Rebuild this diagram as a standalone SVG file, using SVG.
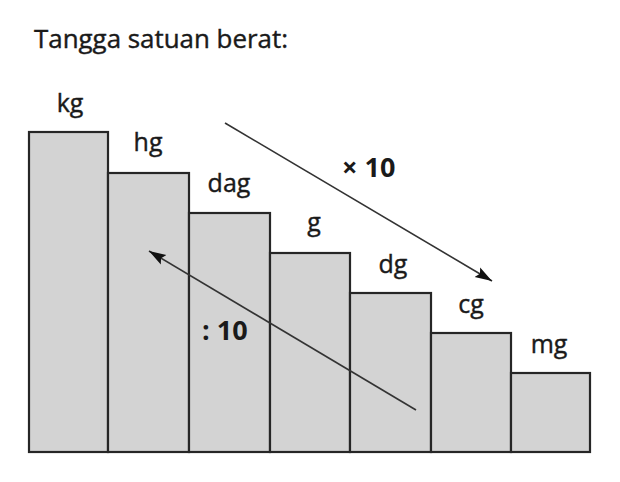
<svg xmlns="http://www.w3.org/2000/svg" width="620" height="482" viewBox="0 0 620 482">
<style>
.bar{fill:#d3d3d3;stroke:#262626;stroke-width:2.2}
.lbl{font-family:"Open Sans","Liberation Sans",sans-serif;font-size:25px;fill:#1a1a1a;stroke:#1a1a1a;stroke-width:0.4;text-anchor:middle}
.title{font-family:"Open Sans","Liberation Sans",sans-serif;font-size:25px;fill:#1a1a1a;stroke:#1a1a1a;stroke-width:0.4}
.op{font-family:"Open Sans","Liberation Sans",sans-serif;font-size:27px;font-weight:bold;fill:#1a1a1a}
.arr{stroke:#333;stroke-width:1.6;fill:none;marker-end:url(#ah)}
</style>
<defs>
<marker id="ah" markerUnits="userSpaceOnUse" markerWidth="18" markerHeight="12" refX="17" refY="6" orient="auto">
<path d="M0,0.5 L17,6 L0,11.5 L3,6 z" fill="#111"/>
</marker>
</defs>
<rect width="620" height="482" fill="#fff"/>
<text class="title" x="34" y="48" textLength="254" lengthAdjust="spacingAndGlyphs">Tangga satuan berat:</text>
<g id="kg"><rect class="bar" x="29" y="132" width="79" height="320"/><text class="lbl" x="70" y="112">kg</text></g>
<g id="hg"><rect class="bar" x="108" y="173" width="81" height="279"/><text class="lbl" x="148" y="151">hg</text></g>
<g id="dag"><rect class="bar" x="189" y="213" width="81" height="239"/><text class="lbl" x="229" y="192">dag</text></g>
<g id="g"><rect class="bar" x="270" y="253" width="80" height="199"/><text class="lbl" x="314" y="231">g</text></g>
<g id="dg"><rect class="bar" x="350" y="293" width="81" height="159"/><text class="lbl" x="393" y="273">dg</text></g>
<g id="cg"><rect class="bar" x="431" y="333" width="80" height="119"/><text class="lbl" x="471" y="313">cg</text></g>
<g id="mg"><rect class="bar" x="511" y="373" width="79" height="79"/><text class="lbl" x="549" y="353">mg</text></g>
<g id="connectors">
<line class="arr" x1="225" y1="123" x2="492" y2="281"/>
<line class="arr" x1="416" y1="410" x2="149" y2="251"/>
</g>
<text class="op" x="342" y="177">× 10</text>
<text class="op" x="202" y="340">: 10</text>
</svg>
